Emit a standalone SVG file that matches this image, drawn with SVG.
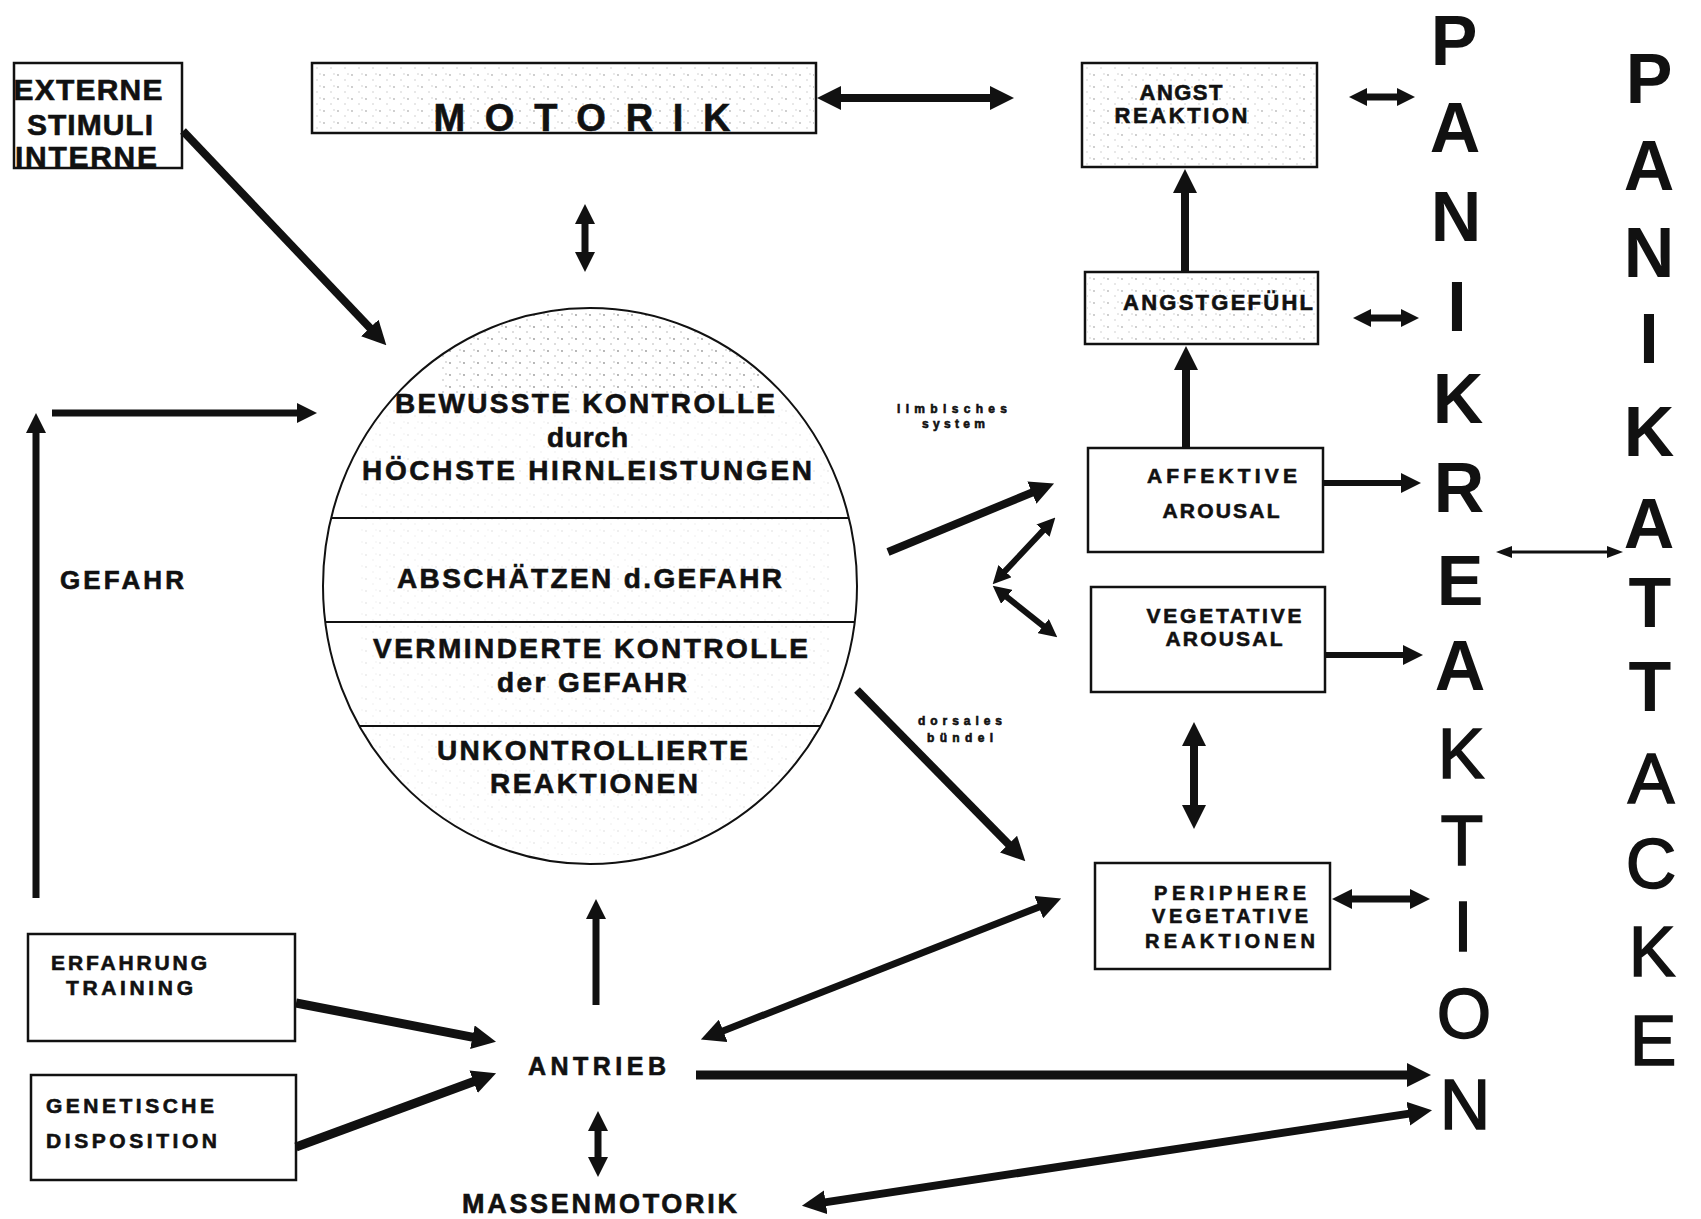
<svg xmlns="http://www.w3.org/2000/svg" width="1701" height="1219" viewBox="0 0 1701 1219">
<defs>
<style>
.box{fill:#fff;stroke:#111;stroke-width:2.5}
.stip{fill:url(#stip)}
.t{font-family:"Liberation Sans",Arial,Helvetica,sans-serif;font-weight:700;fill:#111;stroke:#111;stroke-width:0.6;text-anchor:middle}
.big{font-family:"Liberation Sans",Arial,Helvetica,sans-serif;font-size:70px;fill:#111;text-anchor:middle}
.bb{font-weight:700}
.nb{font-weight:400;stroke:#111;stroke-width:1.5}
.ar{stroke:#111;fill:none;stroke-linecap:butt}
.ln{stroke:#111;stroke-width:2;fill:none}
</style>
<pattern id="stip" width="14" height="12" patternUnits="userSpaceOnUse">
<circle cx="2" cy="3" r="0.9" fill="#8a8a8a"/>
<circle cx="9" cy="8" r="0.8" fill="#a8a8a8"/>
<circle cx="12" cy="2" r="0.7" fill="#9a9a9a"/>
</pattern>
<clipPath id="circ"><ellipse cx="590" cy="586" rx="267" ry="278"/></clipPath>
<marker id="ah" markerUnits="userSpaceOnUse" viewBox="0 0 24 24" refX="1" refY="12" markerWidth="24" markerHeight="24" orient="auto-start-reverse"><path d="M0,0 L24,12 L0,24 z" fill="#111"/></marker>
<marker id="ahm" markerUnits="userSpaceOnUse" viewBox="0 0 20 20" refX="1" refY="10" markerWidth="20" markerHeight="20" orient="auto-start-reverse"><path d="M0,0 L20,10 L0,20 z" fill="#111"/></marker>
<marker id="ahs" markerUnits="userSpaceOnUse" viewBox="0 0 18 18" refX="1" refY="9" markerWidth="18" markerHeight="18" orient="auto-start-reverse"><path d="M0,0 L18,9 L0,18 z" fill="#111"/></marker>
<marker id="aht" markerUnits="userSpaceOnUse" viewBox="0 0 16 12" refX="1" refY="6" markerWidth="16" markerHeight="12" orient="auto-start-reverse"><path d="M0,0 L16,6 L0,12 z" fill="#111"/></marker>
</defs>
<rect width="1701" height="1219" fill="#fff"/>

<g id="externe-stimuli">
<rect class="box" x="14" y="63" width="168" height="105"/>
<text class="t" font-size="30" x="88" y="100" textLength="149" lengthAdjust="spacing">EXTERNE</text>
<text class="t" font-size="30" x="90" y="135" textLength="126" lengthAdjust="spacing">STIMULI</text>
<text class="t" font-size="30" x="86" y="167" textLength="142" lengthAdjust="spacing">INTERNE</text>
</g>

<g id="motorik">
<rect class="box" x="312" y="63" width="504" height="70"/>
<rect class="stip" x="314" y="65" width="500" height="66" opacity="0.6"/>
<text class="t" font-size="38" x="582" y="131" textLength="297" lengthAdjust="spacing">MOTORIK</text>
</g>

<g id="angst-reaktion">
<rect class="box" x="1082" y="63" width="235" height="104"/>
<rect class="stip" x="1084" y="65" width="231" height="100" opacity="0.6"/>
<text class="t" font-size="22" x="1181" y="100" textLength="83" lengthAdjust="spacing">ANGST</text>
<text class="t" font-size="22" x="1181" y="123" textLength="133" lengthAdjust="spacing">REAKTION</text>
</g>

<g id="angstgefuehl">
<rect class="box" x="1085" y="272" width="233" height="72"/>
<rect class="stip" x="1087" y="274" width="229" height="68" opacity="0.6"/>
<text class="t" font-size="22" x="1218" y="310" textLength="190" lengthAdjust="spacing">ANGSTGEFÜHL</text>
</g>

<g id="affektive-arousal">
<rect class="box" x="1088" y="448" width="235" height="104"/>
<text class="t" font-size="21" x="1222" y="483" textLength="150" lengthAdjust="spacing">AFFEKTIVE</text>
<text class="t" font-size="21" x="1221" y="518" textLength="117" lengthAdjust="spacing">AROUSAL</text>
</g>

<g id="vegetative-arousal">
<rect class="box" x="1091" y="587" width="234" height="105"/>
<text class="t" font-size="21" x="1224" y="623" textLength="155" lengthAdjust="spacing">VEGETATIVE</text>
<text class="t" font-size="21" x="1224" y="646" textLength="117" lengthAdjust="spacing">AROUSAL</text>
</g>

<g id="periphere">
<rect class="box" x="1095" y="863" width="235" height="106"/>
<text class="t" font-size="20" x="1230" y="900" textLength="152" lengthAdjust="spacing">PERIPHERE</text>
<text class="t" font-size="20" x="1230" y="923" textLength="156" lengthAdjust="spacing">VEGETATIVE</text>
<text class="t" font-size="20" x="1230" y="948" textLength="170" lengthAdjust="spacing">REAKTIONEN</text>
</g>

<g id="erfahrung">
<rect class="box" x="28" y="934" width="267" height="107"/>
<text class="t" font-size="21" x="129" y="970" textLength="156" lengthAdjust="spacing">ERFAHRUNG</text>
<text class="t" font-size="21" x="129.5" y="995" textLength="127" lengthAdjust="spacing">TRAINING</text>
</g>

<g id="genetische">
<rect class="box" x="31" y="1075" width="265" height="105"/>
<text class="t" font-size="21" x="130" y="1113" textLength="168" lengthAdjust="spacing">GENETISCHE</text>
<text class="t" font-size="21" x="131.5" y="1148" textLength="171" lengthAdjust="spacing">DISPOSITION</text>
</g>

<g id="kontrolle-kreis">
<ellipse cx="590" cy="586" rx="267" ry="278" fill="#fff"/>
<g clip-path="url(#circ)">
<rect class="stip" x="440" y="300" width="320" height="95" opacity="0.9"/>
<rect class="stip" x="360" y="395" width="470" height="460" opacity="0.2"/>
</g>
<ellipse class="ln" cx="590" cy="586" rx="267" ry="278"/>
<line class="ln" x1="331" y1="518" x2="849" y2="518"/>
<line class="ln" x1="325" y1="622" x2="855" y2="622"/>
<line class="ln" x1="359" y1="726" x2="821" y2="726"/>
<text class="t" font-size="28" x="585" y="413" textLength="380" lengthAdjust="spacing">BEWUSSTE KONTROLLE</text>
<text class="t" font-size="28" x="587.5" y="447" textLength="81" lengthAdjust="spacing">durch</text>
<text class="t" font-size="28" x="587" y="480" textLength="450" lengthAdjust="spacing">HÖCHSTE HIRNLEISTUNGEN</text>
<text class="t" font-size="28" x="589.5" y="588" textLength="385" lengthAdjust="spacing">ABSCHÄTZEN d.GEFAHR</text>
<text class="t" font-size="28" x="590.5" y="658" textLength="435" lengthAdjust="spacing">VERMINDERTE KONTROLLE</text>
<text class="t" font-size="28" x="592" y="692" textLength="190" lengthAdjust="spacing">der GEFAHR</text>
<text class="t" font-size="28" x="592.5" y="760" textLength="311" lengthAdjust="spacing">UNKONTROLLIERTE</text>
<text class="t" font-size="28" x="594" y="793" textLength="208" lengthAdjust="spacing">REAKTIONEN</text>
</g>

<g id="gefahr">
<text class="t" font-size="26" x="122" y="589" textLength="124" lengthAdjust="spacing">GEFAHR</text>
</g>

<g id="antrieb">
<text class="t" font-size="25" x="597" y="1075" textLength="138" lengthAdjust="spacing">ANTRIEB</text>
</g>

<g id="massenmotorik">
<text class="t" font-size="27" x="599.5" y="1213" textLength="275" lengthAdjust="spacing">MASSENMOTORIK</text>
</g>

<g id="labels">
<text class="t" font-size="12" x="952" y="413" textLength="110" lengthAdjust="spacing">limbisches</text>
<text class="t" font-size="12" x="953.5" y="428" textLength="63" lengthAdjust="spacing">system</text>
<text class="t" font-size="12" x="960" y="725" textLength="84" lengthAdjust="spacing">dorsales</text>
<text class="t" font-size="12" x="960" y="742" textLength="66" lengthAdjust="spacing">bündel</text>
</g>

<g id="panikreaktion">
<text class="big bb" x="1454" y="65">P</text>
<text class="big bb" x="1455" y="152">A</text>
<text class="big bb" x="1456" y="241">N</text>
<text class="big bb" x="1457" y="331">I</text>
<text class="big bb" x="1458" y="423">K</text>
<text class="big bb" x="1459" y="512">R</text>
<text class="big bb" x="1460" y="605">E</text>
<text class="big bb" x="1460" y="690">A</text>
<text class="big nb" x="1461" y="778">K</text>
<text class="big nb" x="1462" y="865">T</text>
<text class="big nb" x="1463" y="951">I</text>
<text class="big nb" x="1464" y="1038">O</text>
<text class="big nb" x="1465" y="1129">N</text>
</g>

<g id="panikattacke">
<text class="big bb" x="1649" y="103">P</text>
<text class="big bb" x="1649" y="190">A</text>
<text class="big bb" x="1649" y="277">N</text>
<text class="big bb" x="1649" y="363">I</text>
<text class="big bb" x="1649" y="456">K</text>
<text class="big bb" x="1649" y="548">A</text>
<text class="big bb" x="1650" y="627">T</text>
<text class="big bb" x="1650" y="711">T</text>
<text class="big nb" x="1651" y="803">A</text>
<text class="big nb" x="1651" y="888">C</text>
<text class="big nb" x="1652" y="976">K</text>
<text class="big nb" x="1653" y="1065">E</text>
</g>

<g id="connectors">
<line class="ar" stroke-width="8" x1="183" y1="131" x2="370.5" y2="328.6" marker-end="url(#ah)"/>
<line class="ar" stroke-width="8" x1="840" y1="98" x2="991" y2="98" marker-start="url(#ah)" marker-end="url(#ah)"/>
<line class="ar" stroke-width="7" x1="585" y1="223" x2="585" y2="253" marker-start="url(#ahm)" marker-end="url(#ahm)"/>
<line class="ar" stroke-width="7" x1="36" y1="898" x2="36" y2="432" marker-end="url(#ahm)"/>
<line class="ar" stroke-width="7" x1="52" y1="413" x2="298" y2="413" marker-end="url(#ahm)"/>
<line class="ar" stroke-width="8" x1="888" y1="552" x2="1032.8" y2="492.2" marker-end="url(#ah)"/>
<line class="ar" stroke-width="6" x1="1004.3" y1="571.9" x2="1043.7" y2="529.9" marker-start="url(#ahs)" marker-end="url(#ahs)"/>
<line class="ar" stroke-width="6" x1="1006" y1="596.3" x2="1044" y2="626.7" marker-start="url(#ahs)" marker-end="url(#ahs)"/>
<line class="ar" stroke-width="8" x1="857" y1="690" x2="1009.2" y2="844.9" marker-end="url(#ah)"/>
<line class="ar" stroke-width="8" x1="1185" y1="272" x2="1185" y2="192" marker-end="url(#ah)"/>
<line class="ar" stroke-width="8" x1="1186" y1="447" x2="1186" y2="369" marker-end="url(#ah)"/>
<line class="ar" stroke-width="7" x1="1366" y1="97" x2="1398" y2="97" marker-start="url(#ahs)" marker-end="url(#ahs)"/>
<line class="ar" stroke-width="7" x1="1370" y1="318" x2="1402" y2="318" marker-start="url(#ahs)" marker-end="url(#ahs)"/>
<line class="ar" stroke-width="6" x1="1323" y1="483" x2="1402" y2="483" marker-end="url(#ahm)"/>
<line class="ar" stroke-width="6" x1="1325" y1="655" x2="1404" y2="655" marker-end="url(#ahm)"/>
<line class="ar" stroke-width="8" x1="1194" y1="745" x2="1194" y2="806" marker-start="url(#ah)" marker-end="url(#ah)"/>
<line class="ar" stroke-width="7" x1="1351" y1="899" x2="1411" y2="899" marker-start="url(#ahm)" marker-end="url(#ahm)"/>
<line class="ar" stroke-width="7" x1="722.3" y1="1031.2" x2="1039.7" y2="906.8" marker-start="url(#ah)" marker-end="url(#ah)"/>
<line class="ar" stroke-width="9" x1="296" y1="1003" x2="473.4" y2="1037.4" marker-end="url(#ah)"/>
<line class="ar" stroke-width="9" x1="296" y1="1147" x2="474.5" y2="1081.3" marker-end="url(#ah)"/>
<line class="ar" stroke-width="7" x1="596" y1="1005" x2="596" y2="918" marker-end="url(#ahm)"/>
<line class="ar" stroke-width="7" x1="598" y1="1130" x2="598" y2="1158" marker-start="url(#ahm)" marker-end="url(#ahm)"/>
<line class="ar" stroke-width="9" x1="696" y1="1075" x2="1408" y2="1075" marker-end="url(#ah)"/>
<line class="ar" stroke-width="8" x1="824.7" y1="1202.4" x2="1409.3" y2="1113.6" marker-start="url(#ah)" marker-end="url(#ah)"/>
<line class="ar" stroke-width="3" x1="1511" y1="552" x2="1608" y2="552" marker-start="url(#aht)" marker-end="url(#aht)"/>
</g>
</svg>
